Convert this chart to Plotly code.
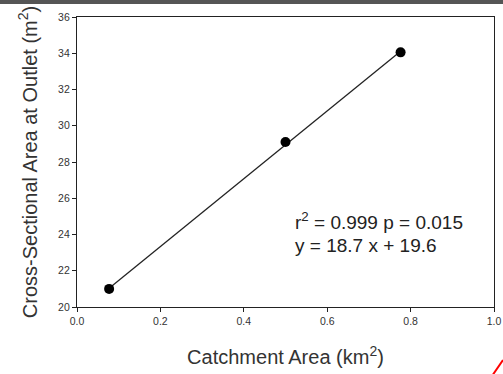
import plotly.graph_objects as go

catchment_area = [0.077, 0.50, 0.776]
cross_section = [21.0, 29.1, 34.05]
fit_slope = 18.7
fit_intercept = 19.6
fit_x = [0.077, 0.776]
fit_y = [fit_slope * x + fit_intercept for x in fit_x]

x_ticks = [0.0, 0.2, 0.4, 0.6, 0.8, 1.0]
x_tick_labels = ["0.0", "0.2", "0.4", "0.6", "0.8", "1.0"]
y_ticks = [20, 22, 24, 26, 28, 30, 32, 34, 36]
stats_lines = ["r<sup>2</sup> = 0.999 p = 0.015", "y = 18.7 x + 19.6"]

font = "Liberation Sans, Arial, sans-serif"

fig = go.Figure()
fig.add_trace(go.Scatter(x=fit_x, y=fit_y, mode="lines",
                         line=dict(color="#222222", width=1.3), hoverinfo="skip"))
fig.add_trace(go.Scatter(x=catchment_area, y=cross_section, mode="markers",
                         marker=dict(color="black", size=10)))

for txt, yy in zip(stats_lines, [24.73, 23.40]):
    fig.add_annotation(x=0.517, y=yy, xref="x", yref="y", xanchor="left", yanchor="middle",
                       text=txt, showarrow=False, align="left",
                       font=dict(family=font, size=19, color="#222222"))

# top dark strip and red stroke from the screenshot
fig.add_shape(type="rect", xref="paper", yref="paper",
              x0=-0.2, x1=1.03, y0=(307 - 4) / 290, y1=(307 + 2) / 290,
              fillcolor="#555555", line=dict(width=0), layer="above")
fig.add_shape(type="line", xref="paper", yref="paper",
              x0=(503 - 77) / 417, y0=(307 - 360) / 290,
              x1=(492 - 77) / 417, y1=(307 - 376) / 290,
              line=dict(color="red", width=2))

fig.update_layout(
    width=503, height=374,
    margin=dict(l=77, r=9, t=17, b=67, autoexpand=False),
    paper_bgcolor="white", plot_bgcolor="white",
    showlegend=False,
    font=dict(family=font, color="#333333"),
)
fig.update_xaxes(range=[0, 1.0], tickvals=x_ticks, ticktext=x_tick_labels,
                 automargin=False,
                 ticks="outside", ticklen=4, tickwidth=1, tickcolor="#222",
                 showgrid=False, zeroline=False, showline=True, linecolor="#222",
                 linewidth=1.2, mirror=True,
                 tickfont=dict(size=10.5, color="#333"),
                 title=dict(text="Catchment Area (km<sup>2</sup>)",
                            font=dict(size=20, color="#333"), standoff=24))
fig.update_yaxes(range=[20, 36], tickvals=y_ticks,
                 automargin=False,
                 ticks="outside", ticklen=4, tickwidth=1, tickcolor="#222",
                 showgrid=False, zeroline=False, showline=True, linecolor="#222",
                 linewidth=1.2, mirror=True,
                 tickfont=dict(size=10.5, color="#333"),
                 title=dict(text="Cross-Sectional Area at Outlet (m<sup>2</sup>)",
                            font=dict(size=20, color="#333"), standoff=15))

fig.write_html("out.html", config={"displayModeBar": False},
               post_script="document.body.style.margin='0';document.body.style.overflow='hidden';")
